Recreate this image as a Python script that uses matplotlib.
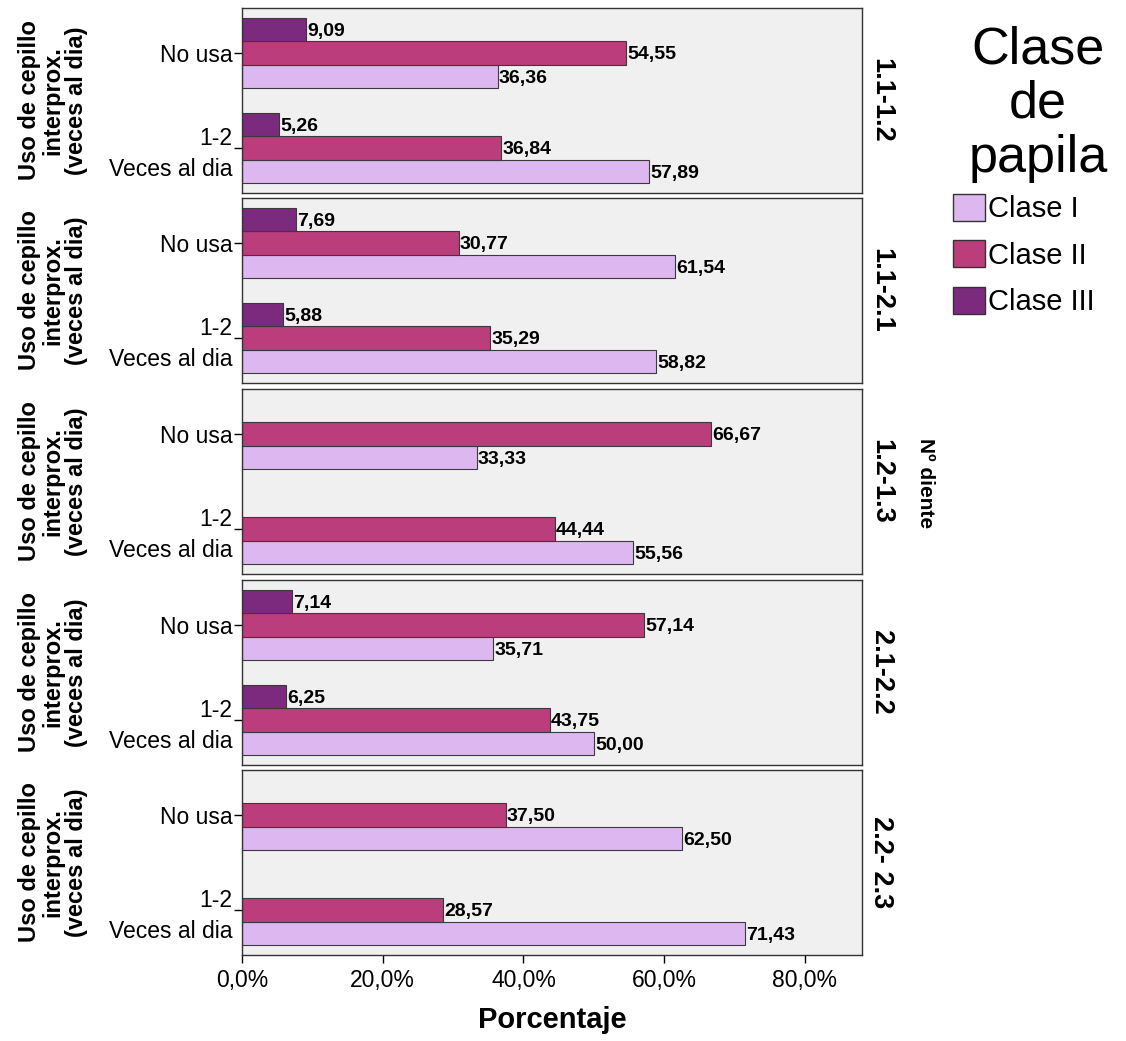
import matplotlib.pyplot as plt
import matplotlib.patches as mpatches
import numpy as np

plt.rcParams['font.family'] = ['Liberation Sans', 'DejaVu Sans']

# datos
dientes = ['1.1-1.2', '1.1-2.1', '1.2-1.3', '2.1-2.2', '2.2- 2.3']
categorias = ['No usa', '1-2\nVeces al dia']
clases = ['Clase I', 'Clase II', 'Clase III']

clase_1 = [[36.36, 57.89], [61.54, 58.82], [33.33, 55.56], [35.71, 50.00], [62.50, 71.43]]
clase_2 = [[54.55, 36.84], [30.77, 35.29], [66.67, 44.44], [57.14, 43.75], [37.50, 28.57]]
clase_3 = [[9.09, 5.26], [7.69, 5.88], [None, None], [7.14, 6.25], [None, None]]

colores = ['#DDB8F0', '#BB3D7B', '#7B2A7E']
ticks_x = [0, 20, 40, 60, 80]

fig = plt.figure(figsize=(11.26, 10.41), dpi=100)

W, H = 1126, 1041
izq, der = 242, 862
tops = [8, 198, 389, 580, 770]
alto = 185
alto_barra = 0.245
# orden de arriba a abajo dentro de cada grupo: III, II, I
desp = {2: -alto_barra, 1: 0.0, 0: alto_barra}

for i, d in enumerate(dientes):
    ax = fig.add_axes([izq / W, 1 - (tops[i] + alto) / H, (der - izq) / W, alto / H])
    ax.set_facecolor('#F0F0F0')
    y = np.arange(len(categorias))
    series = [clase_1[i], clase_2[i], clase_3[i]]
    for k, vals in enumerate(series):
        for j, v in enumerate(vals):
            if v is None:
                continue
            ax.barh(y[j] + desp[k], v, height=alto_barra, color=colores[k],
                    edgecolor='#3a3a3a', linewidth=0.8)
            ax.text(v + 0.15, y[j] + desp[k] + 0.02, f'{v:.2f}'.replace('.', ','),
                    ha='left', va='center', fontsize=14, fontweight='bold')
    ax.set_xlim(0, 88.1)
    ax.set_ylim(1.474, -0.474)
    ax.set_yticks(y)
    ax.set_yticklabels(categorias, fontsize=16.5, ha='right', multialignment='right',
                       linespacing=1.4)
    ax.tick_params(axis='y', length=6, width=1, direction='out', pad=1)
    for s in ax.spines.values():
        s.set_color('#333333')
        s.set_linewidth(1)
    if i < len(dientes) - 1:
        ax.set_xticks([])
    else:
        ax.set_xticks(ticks_x)
        ax.set_xticklabels([f'{t},0%' for t in ticks_x], fontsize=16.5)
        ax.tick_params(axis='x', length=6, width=1, direction='out', pad=4)
        ax.set_xlabel('Porcentaje', fontsize=21, fontweight='bold', labelpad=10)
    yc = 1 - (tops[i] + alto / 2) / H
    fig.text(53 / W, yc, 'Uso de cepillo\ninterprox.\n(veces al dia)', rotation=90,
             ha='center', va='center', fontsize=17, fontweight='bold', linespacing=1.0)
    fig.text(881 / W, yc, d, rotation=270, ha='center', va='center',
             fontsize=19.5, fontweight='bold')

fig.text(926 / W, 1 - 483 / H, 'Nº diente', rotation=270, ha='center', va='center',
         fontsize=15, fontweight='bold')

# leyenda
fig.text(1038 / W, 1 - 25 / H, 'Clase\nde\npapila', ha='center', va='top',
         fontsize=37.5, linespacing=1.15)
handles = [mpatches.Patch(facecolor=c, edgecolor='#333333', label=l) for c, l in zip(colores, clases)]
fig.legend(handles=handles, loc='upper left', bbox_to_anchor=(953 / W, 1 - 194 / H),
           fontsize=21, frameon=False, handlelength=1.1, handleheight=1.05,
           handletextpad=0.1, labelspacing=0.58, borderaxespad=0, borderpad=0)

fig.savefig('out.png', dpi=100)
